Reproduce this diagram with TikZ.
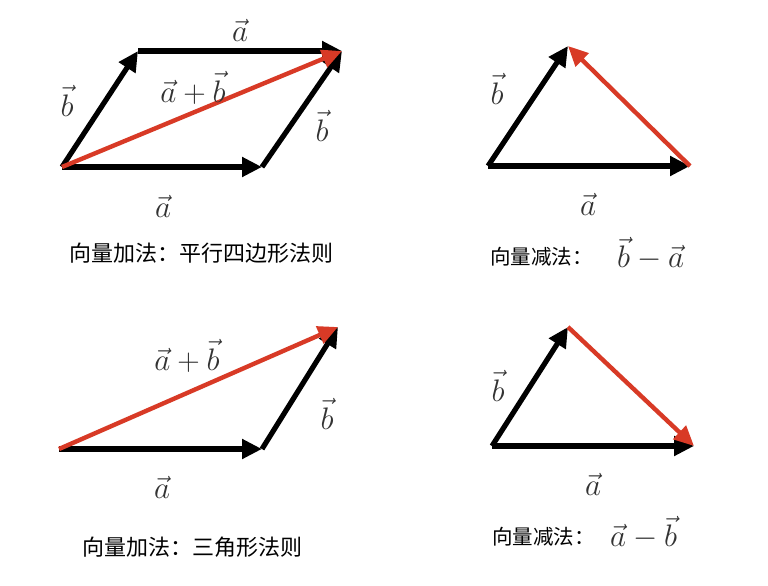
\documentclass[tikz,border=0pt]{standalone}
\usepackage{graphicx}
\usepackage{fontspec}
\newfontfamily\cjk{Noto Sans CJK SC}
\usetikzlibrary{arrows.meta}
\definecolor{vred}{HTML}{D83A26}
\newcommand\vlab[1]{\scalebox{1.5}{\fontsize{20.74}{24}\selectfont$#1$}}
\begin{document}
\begin{tikzpicture}[x=1pt,y=-1pt,
  vec/.style={line width=5.2pt,-{Triangle[length=20pt,width=19pt]}},
  rvec/.style={line width=4.4pt,vred,-{Triangle[length=20pt,width=18pt]}},
  lbl/.style={inner sep=0pt,text=black!80},
  captext/.style={inner sep=0pt,font=\cjk\fontsize{20.5}{24}\selectfont},
  bigcap/.style={captext,font=\cjk\fontsize{22}{26}\selectfont}]
\useasboundingbox[fill=white] (0,0) rectangle (768,586);
% panel 1
\coordinate (p1o) at (62,167);
\coordinate (p1a) at (262,167);
\coordinate (p1b) at (138,51);
\coordinate (p1c) at (342,51);
\draw[vec] (p1o) -- (p1a);
\draw[vec] (p1o) -- (p1b);
\draw[vec] (p1b) -- (p1c);
\draw[vec] (p1a) -- (p1c);
\draw[rvec] (p1o) -- (p1c);
\node[lbl] (l1a) at (240,30) {\vlab{\vec a}};
\node[lbl] (l1b) at (67,101) {\vlab{\vec b}};
\node[lbl] (l1s) at (193,88) {\vlab{\vec a+\vec b}};
\node[lbl] (l1b2) at (322,126) {\vlab{\vec b}};
\node[lbl] (l1a2) at (163,206) {\vlab{\vec a}};
\node[bigcap] (c1) at (201,253) {向量加法：平行四边形法则};
% panel 2
\coordinate (p2o) at (488,166);
\coordinate (p2a) at (690,166);
\coordinate (p2b) at (568,46);
\draw[vec] (p2o) -- (p2a);
\draw[vec] (p2o) -- (p2b);
\draw[rvec] (p2a) -- (p2b);
\node[lbl] (l2b) at (497,89) {\vlab{\vec b}};
\node[lbl] (l2a) at (588,204) {\vlab{\vec a}};
\node[captext,anchor=west] (c2) at (490,257) {向量减法：};
\node[lbl,anchor=west] (m2) at (617,254) {\vlab{\vec b-\vec a}};
% panel 3
\coordinate (p3o) at (59,449);
\coordinate (p3a) at (262,449);
\coordinate (p3b) at (338,327);
\draw[vec] (p3o) -- (p3a);
\draw[vec] (p3a) -- (p3b);
\draw[rvec] (p3o) -- (p3b);
\node[lbl] (l3s) at (187,356) {\vlab{\vec a+\vec b}};
\node[lbl] (l3b) at (327,414) {\vlab{\vec b}};
\node[lbl] (l3a) at (162,487) {\vlab{\vec a}};
\node[bigcap] (c3) at (192,547) {向量加法：三角形法则};
% panel 4
\coordinate (p4o) at (492,446);
\coordinate (p4a) at (694,446);
\coordinate (p4b) at (568,327);
\draw[vec] (p4o) -- (p4a);
\draw[vec] (p4o) -- (p4b);
\draw[rvec] (p4b) -- (p4a);
\node[lbl] (l4b) at (498,386) {\vlab{\vec b}};
\node[lbl] (l4a) at (593,484) {\vlab{\vec a}};
\node[captext,anchor=west] (c4) at (492,537) {向量减法：};
\node[lbl,anchor=west] (m4) at (610,533) {\vlab{\vec a-\vec b}};
\end{tikzpicture}
\end{document}
